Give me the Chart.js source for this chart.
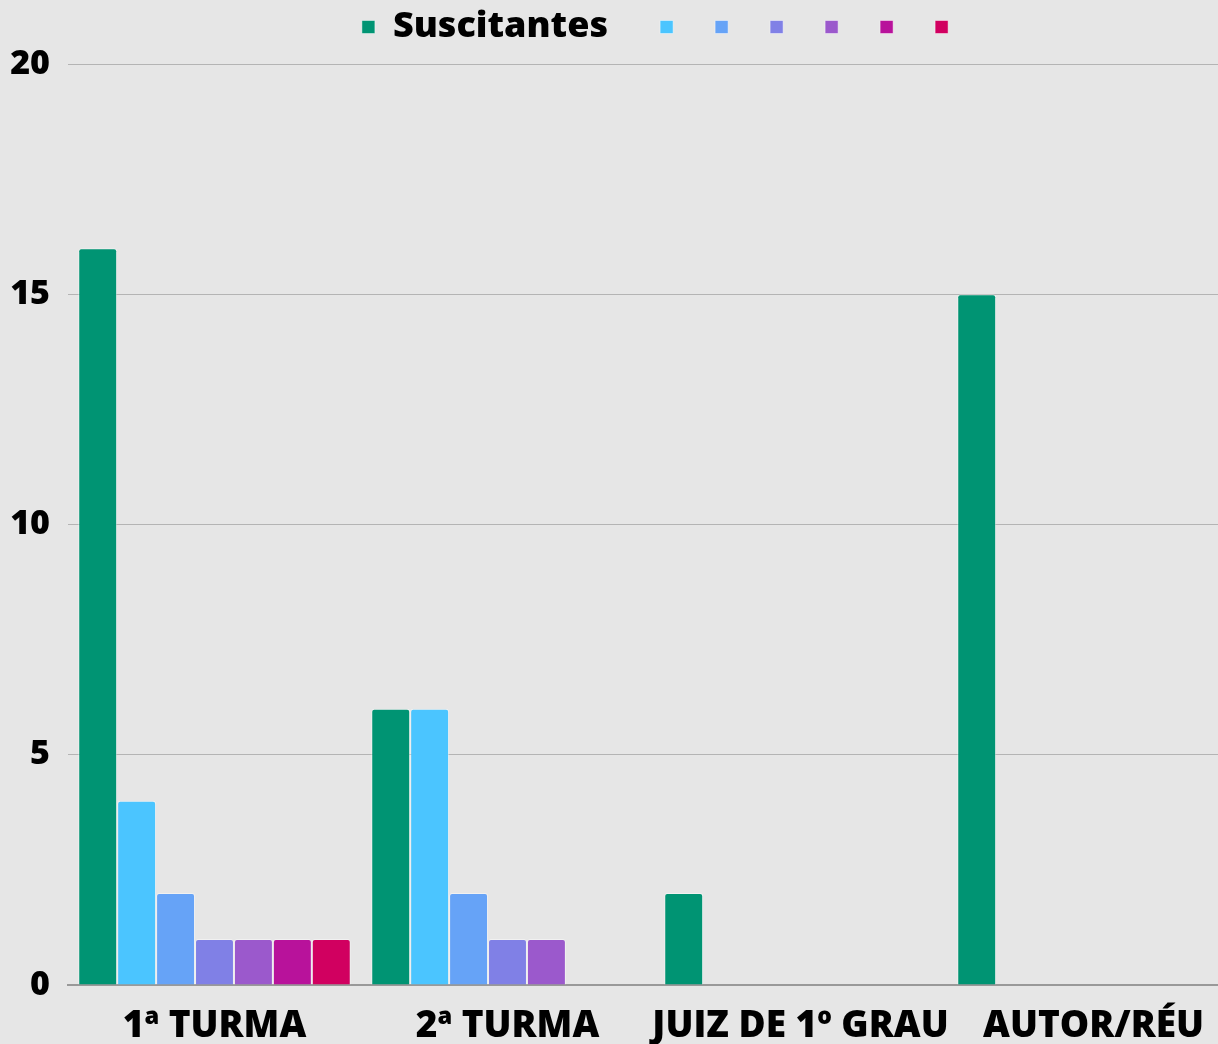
<!DOCTYPE html>
<html><head><meta charset="utf-8">
<script src="https://cdn.jsdelivr.net/npm/chart.js@4"></script>
<style>html,body{margin:0;padding:0;background:#e6e6e6;overflow:hidden;}#wrap{width:1218px;height:1044px;overflow:hidden;}</style>
</head><body><div id="wrap"><canvas id="c" width="1240" height="1044"></canvas></div>
<script>
const categories = ["1ª TURMA", "2ª TURMA", "JUIZ DE 1º GRAU", "AUTOR/RÉU"];
const seriesNames = ["Suscitantes   ", "", "", "", "", "", ""];
const s0 = [16, 6, 2, 15];
const s1 = [4, 6, 0, 0];
const s2 = [2, 2, 0, 0];
const s3 = [1, 1, 0, 0];
const s4 = [1, 1, 0, 0];
const s5 = [1, 0, 0, 0];
const s6 = [1, 0, 0, 0];
const yTicks = [0, 5, 10, 15, 20];
const colors = ["#009473", "#4bc5ff", "#66a3f7", "#8080e6", "#9b59cc", "#b8129b", "#d10060"];
const allSeries = [s0, s1, s2, s3, s4, s5, s6];

const datasets = allSeries.map((d, i) => ({
  label: seriesNames[i],
  data: d,
  backgroundColor: colors[i],
  borderColor: "rgba(255,255,255,0.45)",
  borderWidth: 1,
  borderRadius: 3,
  borderSkipped: "bottom",
  categoryPercentage: 0.93,
  barPercentage: 1
}));

const legendShift = {
  id: "legendShift",
  afterLayout(chart) {
    const l = chart.legend;
    if (l) { l.top -= 9; l.left += 88; }
  }
};

new Chart(document.getElementById("c"), {
  type: "bar",
  data: { labels: categories, datasets },
  plugins: [legendShift],
  options: {
    responsive: false,
    animation: false,
    layout: { padding: { left: 0, right: 0, top: -6, bottom: 0 } },
    plugins: {
      legend: {
        position: "top",
        labels: {
          boxWidth: 13, boxHeight: 13, padding: 24,
          color: "#000",
          font: { family: "Open Sans", weight: "800", size: 36 }
        }
      },
      tooltip: { enabled: false }
    },
    scales: {
      x: {
        grid: { display: false, drawTicks: false },
        border: { color: "#999", width: 2 },
        afterFit: (axis) => { axis.height = 59; },
        ticks: { color: "#000", padding: 19, maxRotation: 0, autoSkip: false,
          font: { family: "Open Sans", weight: "800", size: 37 } }
      },
      y: {
        min: 0, max: 20,
        afterBuildTicks: (axis) => { axis.ticks = yTicks.map(v => ({ value: v })); },
        afterFit: (axis) => { axis.width = 68; },
        grid: { color: "#b4b4b4", lineWidth: 1, drawTicks: false },
        border: { display: false },
        ticks: { color: "#000", padding: 18,
          font: { family: "Open Sans", weight: "800", size: 34 } }
      }
    }
  }
});
</script></body></html>
